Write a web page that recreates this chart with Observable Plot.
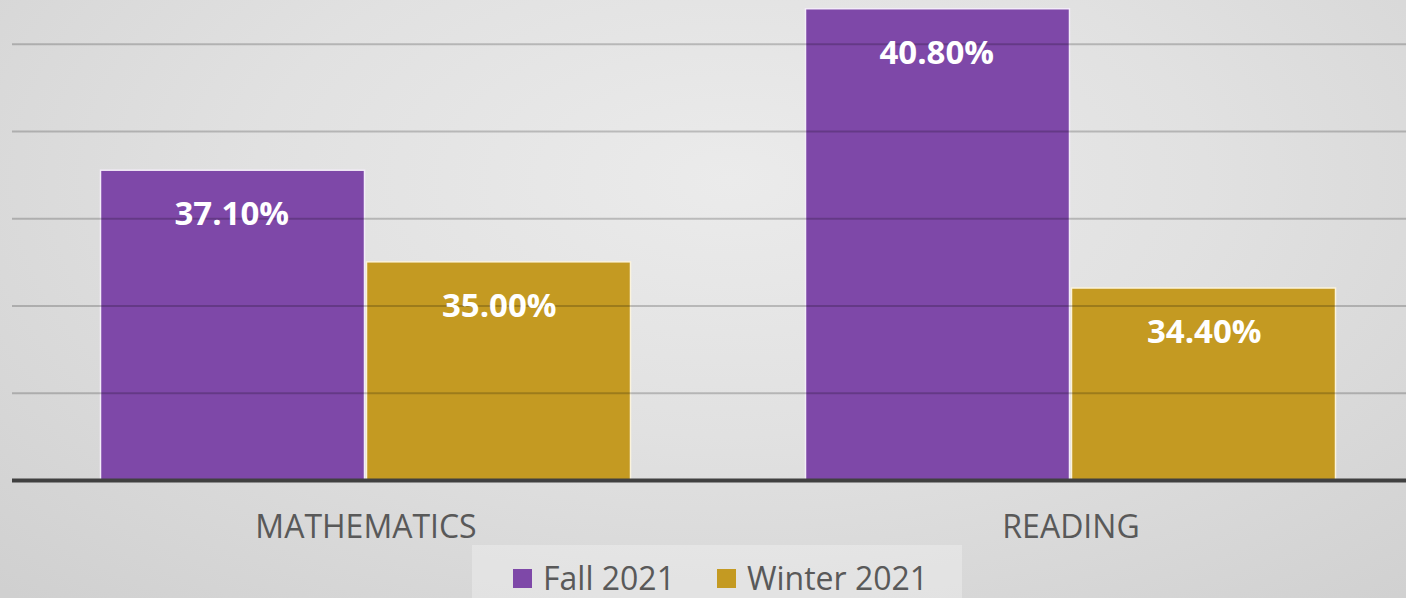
<!DOCTYPE html>
<html>
<head>
<meta charset="utf-8">
<script src="https://cdn.jsdelivr.net/npm/d3@7"></script>
<script src="https://cdn.jsdelivr.net/npm/@observablehq/plot@0.6"></script>
<style>
  html, body { margin: 0; padding: 0; overflow: hidden; }
  #wrap {
    width: 1406px; height: 598px; position: relative; overflow: hidden;
    background: radial-gradient(ellipse 75% 95% at 52% 30%, #ebebeb 0%, #e1e1e1 45%, #d0d0d0 100%);
    font-family: "Open Sans", sans-serif;
  }
  #chart { position: absolute; left: 0; top: 0; }
  #legend {
    position: absolute; left: 472px; top: 545px; width: 490px; height: 53px;
    background: rgba(255,255,255,0.28);
    box-sizing: border-box; padding-top: 17px; padding-left: 41px;
    display: flex; gap: 0;
  }
  .item { display: flex; align-items: center; height: 32px; line-height: 32px; font-size: 32px; color: #595959; }
  .sw { width: 19px; height: 19px; margin-right: 11px; box-sizing: border-box; }
</style>
</head>
<body>
<div id="wrap"><div id="chart"></div><div id="legend"></div></div>
<script>
const categories = ["MATHEMATICS", "READING"];
const seriesNames = ["Fall 2021", "Winter 2021"];
const fallValues = [37.1, 40.8];
const winterValues = [35.0, 34.4];
const gridTicks = [32, 34, 36, 38, 40];
const yDomain = [30, 41];
const seriesColors = ["#7e48a8", "#c49a22"];

const fall = categories.map((c, i) => ({category: c, series: seriesNames[0], value: fallValues[i]}));
const winter = categories.map((c, i) => ({category: c, series: seriesNames[1], value: winterValues[i]}));
const fmt = v => d3.format(".2f")(v) + "%";

const W = 1406;
const bw = 531; // band width for layout of paired bars
const half = bw / 2;

const chart = Plot.plot({
  width: W,
  height: 560,
  marginLeft: 12,
  marginRight: 0,
  marginTop: 0,
  marginBottom: 80,
  style: {background: "transparent", fontFamily: "Open Sans", overflow: "visible"},
  x: {domain: categories, paddingInner: 0.2468, paddingOuter: 0.112, align: 0.554, axis: null, label: null},
  y: {domain: yDomain, axis: null},
  marks: [
    Plot.barY(fall, {x: "category", y1: yDomain[0], y2: "value", fill: seriesColors[0], stroke: "#f3ecf8", strokeWidth: 1.5, insetLeft: 0.5, insetRight: half + 1}),
    Plot.barY(winter, {x: "category", y1: yDomain[0], y2: "value", fill: seriesColors[1], stroke: "#fbf3dc", strokeWidth: 1.5, insetLeft: half + 1, insetRight: 0.5}),
    Plot.ruleY(gridTicks, {stroke: "#000", strokeOpacity: 0.2, strokeWidth: 2}),
    Plot.ruleY([yDomain[0]], {stroke: "#404040", strokeWidth: 4}),
    Plot.text(fall, {x: "category", y: "value", text: d => fmt(d.value), dx: -half / 2 - 1.5, dy: 44, fill: "white", fontSize: 33, fontWeight: "bold"}),
    Plot.text(winter, {x: "category", y: "value", text: d => fmt(d.value), dx: half / 2 + 0.5, dy: 44, fill: "white", fontSize: 33, fontWeight: "bold"}),
    Plot.axisX({tickSize: 0, tickPadding: 35, fontSize: 32, fill: "#595959", color: "#595959", label: null})
  ]
});
document.getElementById("chart").appendChild(chart);

const legend = document.getElementById("legend");
seriesNames.forEach((name, i) => {
  const item = document.createElement("div");
  item.className = "item";
  if (i > 0) item.style.marginLeft = "42px";
  const sw = document.createElement("span");
  sw.className = "sw";
  sw.style.background = seriesColors[i];
  const t = document.createElement("span");
  t.textContent = name;
  item.appendChild(sw);
  item.appendChild(t);
  legend.appendChild(item);
});
</script>
</body>
</html>
